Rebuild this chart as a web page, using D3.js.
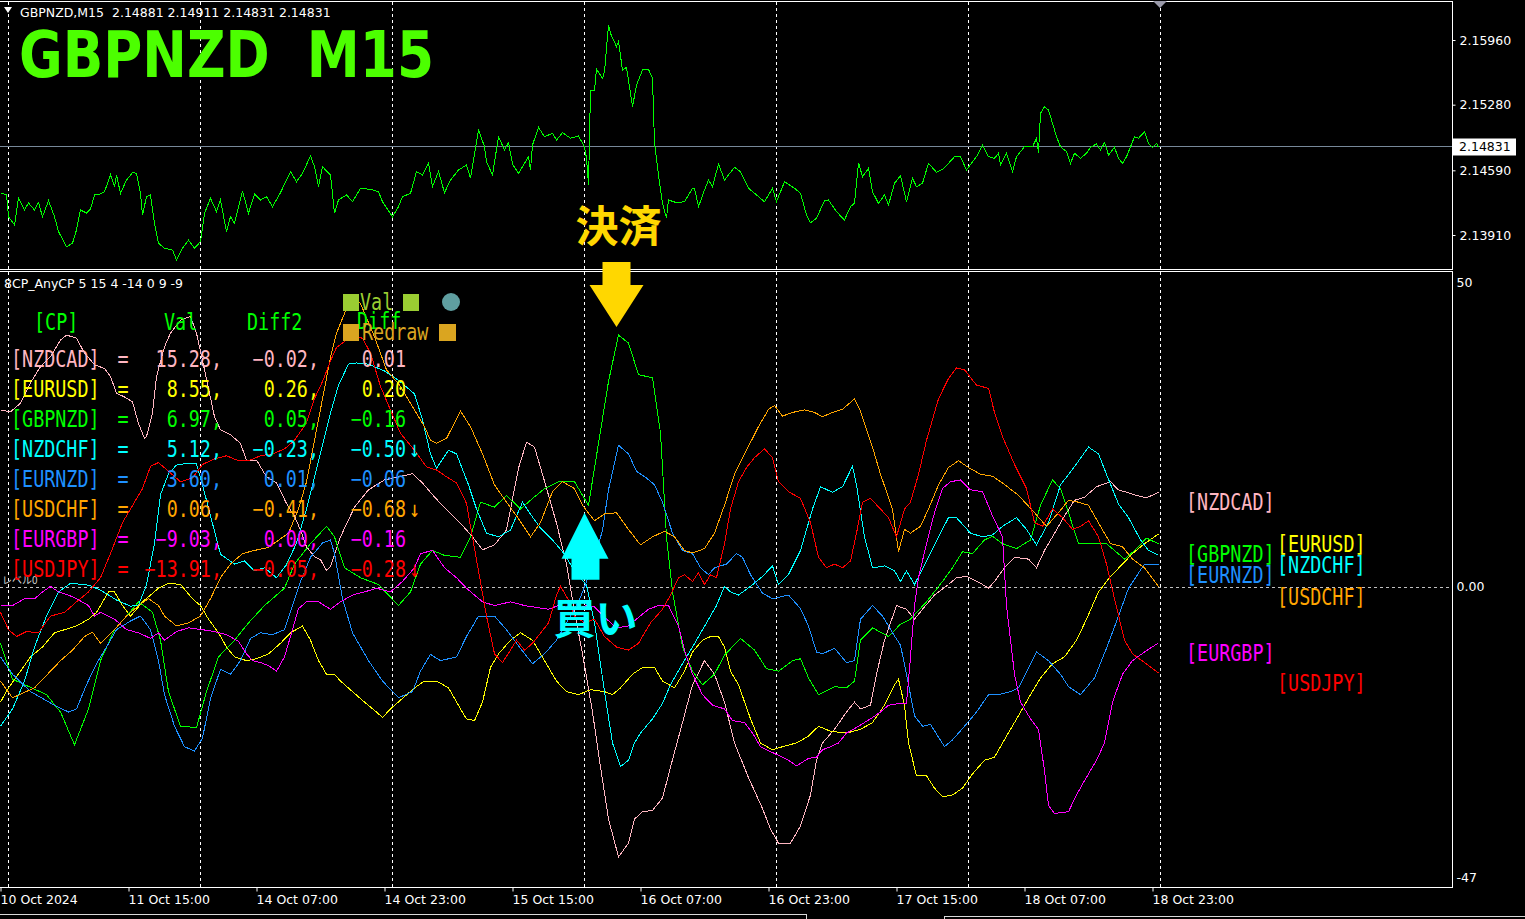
<!DOCTYPE html>
<html><head><meta charset="utf-8">
<script src="https://cdn.jsdelivr.net/npm/d3@7"></script>
<style>html,body{margin:0;padding:0;background:#000;overflow:hidden}</style>
</head><body><svg id="c" width="1525" height="919"></svg>
<script>
// ---------------- DATA ----------------
const symbolHeader = "GBPNZD,M15  2.14881 2.14911 2.14831 2.14831";
const bigTitle = "GBPNZD  M15";
const indicatorTitle = "8CP_AnyCP 5 15 4 -14 0 9 -9";
const priceTicks = [2.15960, 2.15280, 2.14590, 2.13910];
const lastPrice = 2.14831;
const indTicks = [50, 0, -47];
const timeTicks = [0, 64, 128, 192, 256, 320, 384, 448, 512, 576];
const timeLabels = ["10 Oct 2024","11 Oct 15:00","14 Oct 07:00","14 Oct 23:00","15 Oct 15:00","16 Oct 07:00","16 Oct 23:00","17 Oct 15:00","18 Oct 07:00","18 Oct 23:00"];
const daySeps = [4, 100, 196, 292, 388, 484, 580];

// GBPNZD M15 close, [bar, price]
const priceSeries = [[0,2.14355],[3,2.14331],[4,2.14102],[7,2.14015],[9,2.14299],[12,2.14173],[14,2.14246],[17,2.14173],[19,2.14250],[21,2.14102],[24,2.14271],[27,2.14102],[29,2.13945],[33,2.13787],[36,2.13823],[38,2.13963],[40,2.14173],[43,2.14141],[45,2.14183],[47,2.14331],[49,2.14331],[52,2.14365],[55,2.14541],[57,2.14418],[58,2.14541],[60,2.14348],[63,2.14488],[66,2.14565],[68,2.14559],[70,2.14348],[71,2.14120],[73,2.14313],[75,2.14331],[77,2.14033],[79,2.13823],[82,2.13770],[86,2.13752],[88,2.13647],[91,2.13770],[94,2.13857],[97,2.13770],[100,2.13840],[102,2.14138],[105,2.14296],[108,2.14155],[110,2.14278],[113,2.13945],[115,2.14102],[117,2.14033],[121,2.14373],[124,2.14138],[127,2.14341],[130,2.14278],[133,2.14313],[136,2.14208],[140,2.14355],[143,2.14488],[145,2.14576],[148,2.14470],[151,2.14559],[155,2.14741],[157,2.14628],[159,2.14418],[161,2.14628],[165,2.14541],[167,2.14138],[169,2.14278],[173,2.14331],[176,2.14260],[180,2.14401],[185,2.14390],[189,2.14365],[191,2.14260],[196,2.14102],[199,2.14208],[201,2.14313],[205,2.14348],[208,2.14576],[211,2.14541],[214,2.14670],[216,2.14418],[219,2.14576],[222,2.14355],[225,2.14488],[229,2.14593],[233,2.14646],[235,2.14506],[239,2.15014],[242,2.14838],[243,2.14681],[246,2.14541],[249,2.14943],[252,2.14804],[254,2.14880],[256,2.14656],[259,2.14559],[264,2.14733],[265,2.14593],[266,2.14856],[269,2.15042],[272,2.14943],[276,2.14979],[278,2.14909],[281,2.14986],[285,2.14927],[289,2.14951],[292,2.14838],[293,2.14716],[294,2.14436],[295,2.15434],[297,2.15434],[298,2.15652],[301,2.15557],[302,2.15627],[304,2.16118],[305,2.16030],[308,2.15890],[309,2.15942],[311,2.15645],[313,2.15673],[316,2.15259],[318,2.15487],[321,2.15645],[324,2.15652],[326,2.15557],[327,2.14874],[329,2.14541],[331,2.14243],[333,2.14086],[334,2.14278],[338,2.14250],[342,2.14260],[346,2.14401],[347,2.14401],[349,2.14208],[352,2.14383],[354,2.14488],[356,2.14418],[359,2.14656],[362,2.14488],[367,2.14622],[370,2.14576],[374,2.14401],[378,2.14331],[382,2.14260],[386,2.14401],[388,2.14260],[392,2.14470],[397,2.14401],[400,2.14348],[403,2.14120],[405,2.14039],[408,2.14086],[412,2.14271],[414,2.14278],[418,2.14155],[422,2.14068],[425,2.14208],[427,2.14243],[429,2.14670],[431,2.14523],[434,2.14611],[436,2.14365],[439,2.14243],[442,2.14331],[444,2.14225],[447,2.14454],[450,2.14533],[453,2.14260],[456,2.14506],[458,2.14418],[461,2.14454],[464,2.14664],[468,2.14569],[471,2.14601],[474,2.14664],[477,2.14733],[480,2.14733],[483,2.14593],[486,2.14681],[488,2.14733],[491,2.14856],[494,2.14733],[497,2.14716],[499,2.14769],[500,2.14646],[503,2.14769],[506,2.14576],[508,2.14733],[512,2.14838],[516,2.14838],[518,2.14927],[519,2.14775],[520,2.15189],[522,2.15259],[524,2.15224],[526,2.15084],[528,2.14943],[530,2.14838],[533,2.14786],[535,2.14664],[537,2.14769],[540,2.14716],[543,2.14769],[545,2.14832],[548,2.14867],[550,2.14804],[552,2.14880],[554,2.14751],[557,2.14832],[559,2.14716],[561,2.14664],[563,2.14733],[567,2.14943],[569,2.14927],[572,2.14996],[574,2.14874],[576,2.14832],[578,2.14874],[579,2.14831]];

// indicator: currency-pair strength, [bar, value]
const pairs = ["NZDCAD","EURUSD","GBPNZD","NZDCHF","EURNZD","USDCHF","EURGBP","USDJPY"];
const pairColors = ["#FFB6C1","#FFFF00","#00FF00","#00FFFF","#1E90FF","#FFA500","#FF00FF","#FF0000"];
const valNow = [15.28, 8.55, 6.97, 5.12, 3.60, 0.06, -9.03, -13.91];
const diff2 = [-0.02, 0.26, 0.05, -0.23, 0.01, -0.41, 0.00, -0.05];
const diff1 = [0.01, 0.20, -0.16, -0.50, -0.06, -0.68, -0.16, -0.28];
const diffArrow = ["", "", "", "↓", "", "↓", "", "↓"];

const sNZDCAD = [[0,28.6],[5,28.3],[10,29.7],[15,33.0],[20,35.6],[25,37.2],[30,39.9],[33,40.7],[38,40.2],[42,37.8],[47,35.9],[52,35.3],[55,34.0],[58,31.3],[62,30.7],[66,29.9],[69,26.4],[72,24.0],[73,24.3],[76,28.1],[78,34.0],[82,38.8],[85,41.0],[90,43.1],[95,43.7],[98,41.0],[102,35.1],[107,27.5],[110,25.4],[115,24.6],[120,23.2],[123,20.5],[128,20.5],[133,17.8],[138,16.8],[143,13.5],[147,11.4],[150,9.2],[153,6.5],[157,4.9],[160,4.4],[163,2.7],[165,3.3],[170,8.1],[177,12.9],[184,15.7],[192,17.3],[199,17.8],[206,18.3],[211,16.8],[216,14.9],[222,12.8],[230,10.3],[236,8.1],[241,6.0],[247,6.8],[253,9.2],[259,19.2],[263,23.4],[267,22.6],[272,17.1],[278,10.3],[283,3.7],[287,-4.0],[291,-10.8],[296,-20.2],[300,-29.1],[304,-37.5],[309,-43.6],[314,-41.4],[317,-37.5],[321,-36.3],[326,-36.1],[331,-34.1],[335,-29.1],[341,-21.9],[346,-15.8],[352,-11.9],[357,-14.1],[362,-18.6],[367,-25.2],[374,-30.8],[381,-35.8],[385,-39.1],[389,-41.4],[395,-41.4],[400,-38.6],[405,-33.6],[408,-28.0],[411,-25.2],[417,-23.0],[423,-20.2],[427,-18.6],[430,-19.7],[435,-19.1],[438,-14.1],[442,-8.6],[448,-3.0],[453,-3.6],[457,-5.2],[461,-3.6],[467,-1.3],[474,0.4],[478,1.5],[483,1.7],[490,0.6],[494,-0.2],[497,0.9],[502,3.1],[507,4.8],[514,4.5],[518,3.1],[522,5.9],[526,8.1],[532,11.5],[537,14.0],[542,14.5],[548,16.2],[555,17.0],[559,15.7],[568,14.8],[573,14.4],[579,15.28]];
const sEURUSD = [[0,-18.6],[4,-16.3],[10,-13.6],[15,-11.3],[21,-9.7],[27,-7.4],[32,-6.9],[38,-6.3],[44,-5.2],[48,-4.1],[54,-0.8],[57,-0.8],[61,-3.0],[65,-4.7],[68,-3.6],[71,-2.4],[75,-1.3],[79,-0.2],[84,0.6],[90,0.4],[96,-1.9],[100,-3.0],[104,-5.2],[109,-7.4],[113,-9.7],[117,-11.3],[123,-11.9],[128,-11.6],[134,-10.8],[140,-9.1],[145,-7.4],[151,-6.3],[155,-8.6],[159,-11.9],[163,-14.1],[167,-14.1],[170,-15.2],[176,-16.9],[182,-18.6],[188,-20.2],[191,-21.1],[195,-19.7],[201,-18.0],[207,-16.3],[212,-15.2],[218,-15.2],[224,-16.3],[230,-19.7],[233,-21.3],[237,-21.6],[241,-18.6],[245,-13.0],[249,-10.8],[255,-8.6],[260,-7.4],[266,-8.6],[272,-11.9],[278,-15.2],[283,-16.9],[289,-17.4],[295,-16.6],[302,-16.9],[306,-17.4],[310,-16.3],[316,-14.1],[321,-13.0],[327,-13.0],[331,-15.2],[337,-16.3],[342,-13.6],[346,-10.5],[351,-8.6],[355,-8.0],[359,-8.0],[362,-9.7],[365,-13.6],[369,-15.8],[375,-21.3],[380,-25.2],[386,-26.3],[391,-25.8],[398,-25.2],[404,-24.1],[409,-22.5],[415,-23.3],[423,-23.6],[430,-23.0],[436,-21.9],[442,-19.1],[447,-15.8],[449,-14.9],[452,-19.1],[454,-25.2],[458,-30.5],[463,-30.5],[467,-32.5],[471,-33.9],[476,-33.6],[481,-32.5],[486,-30.2],[492,-28.0],[497,-27.5],[503,-24.1],[509,-20.8],[515,-17.4],[520,-14.7],[526,-12.4],[532,-11.3],[538,-8.6],[543,-5.2],[549,-0.8],[555,1.7],[561,3.7],[566,5.4],[572,7.0],[579,8.55]];
const sGBPNZD = [[0,-9.1],[6,-14.9],[23,-17.4],[30,-20.2],[37,-25.5],[44,-19.7],[50,-11.9],[57,-6.9],[63,-4.7],[69,-2.4],[76,-4.1],[80,-8.6],[84,-16.9],[90,-22.5],[98,-22.7],[103,-16.9],[109,-11.3],[117,-8.6],[124,-5.8],[132,-3.0],[142,-0.2],[147,3.7],[155,7.0],[163,9.8],[167,8.1],[172,3.1],[180,1.5],[189,0.4],[199,-3.0],[205,-0.8],[210,3.7],[216,5.9],[222,5.1],[230,4.8],[235,8.1],[240,13.7],[247,12.9],[253,14.8],[260,12.6],[266,14.3],[272,15.9],[279,17.0],[287,17.0],[294,13.2],[304,33.2],[309,40.7],[314,39.4],[319,34.3],[326,33.8],[330,24.9],[333,8.1],[336,-0.8],[341,-9.7],[346,-13.6],[351,-15.8],[357,-14.1],[362,-11.0],[370,-8.3],[377,-10.2],[383,-13.2],[389,-13.6],[396,-11.9],[400,-11.6],[404,-14.7],[409,-17.4],[417,-16.1],[423,-16.3],[427,-15.2],[430,-8.6],[436,-6.6],[444,-8.0],[450,-6.0],[455,-5.2],[463,-2.4],[471,0.9],[476,3.1],[481,5.7],[486,5.4],[492,7.6],[496,8.2],[501,7.0],[508,6.2],[515,7.6],[520,13.2],[526,17.3],[530,15.9],[534,12.0],[539,7.0],[547,7.0],[553,7.0],[562,4.5],[567,5.9],[573,7.9],[579,6.97]];
const sNZDCHF = [[0,-22.5],[6,-19.7],[12,-15.2],[17,-9.7],[23,-4.7],[29,-0.8],[35,0.6],[44,0.3],[50,-0.5],[58,-2.1],[65,-3.1],[69,-2.9],[73,0.3],[77,7.1],[80,14.9],[84,18.3],[88,19.7],[94,20.0],[98,19.9],[101,16.5],[105,11.5],[110,5.3],[117,3.7],[122,4.2],[127,2.6],[132,3.1],[138,1.5],[143,3.6],[148,7.1],[153,12.6],[159,20.4],[165,28.1],[169,32.6],[174,36.0],[178,36.2],[184,36.0],[192,34.9],[199,33.4],[207,31.2],[211,27.0],[215,21.5],[218,19.2],[224,22.1],[228,21.5],[234,16.5],[238,12.6],[243,8.7],[249,8.1],[255,9.2],[261,13.7],[266,11.3],[270,9.5],[276,7.6],[282,5.3],[287,2.6],[293,0.3],[297,-5.8],[302,-16.9],[306,-25.2],[310,-29.0],[314,-28.0],[317,-25.2],[320,-23.6],[326,-21.3],[331,-18.8],[335,-15.8],[341,-12.4],[346,-9.7],[353,-5.8],[358,-3.0],[362,0.1],[365,-0.8],[369,-1.3],[375,0.1],[381,1.7],[386,3.4],[389,0.4],[394,2.0],[400,5.9],[406,12.6],[410,16.2],[416,15.3],[421,16.2],[426,19.5],[428,16.5],[432,8.1],[436,3.1],[442,3.4],[447,2.6],[450,0.9],[453,2.6],[457,0.4],[464,4.8],[469,8.1],[474,11.2],[478,11.2],[485,8.7],[491,8.1],[496,8.4],[501,9.8],[508,11.2],[513,9.3],[518,6.8],[524,10.4],[530,16.5],[536,19.0],[544,22.6],[549,21.5],[553,18.2],[559,13.4],[564,11.2],[570,7.6],[574,5.9],[579,5.12]];
const sEURNZD = [[0,-11.3],[6,-14.1],[15,-16.9],[27,-19.1],[34,-20.2],[38,-19.7],[43,-15.8],[48,-12.4],[53,-9.7],[58,-6.9],[65,-5.5],[70,-4.7],[75,-6.9],[79,-11.9],[82,-17.4],[87,-22.5],[92,-25.8],[97,-26.5],[101,-24.4],[105,-18.0],[110,-13.3],[115,-14.1],[120,-11.9],[125,-8.3],[130,-7.4],[136,-7.7],[142,-6.9],[146,-3.0],[150,0.9],[155,4.8],[161,7.1],[165,7.6],[167,5.4],[171,-1.9],[176,-7.4],[184,-11.9],[191,-15.2],[199,-17.9],[206,-16.9],[210,-13.6],[215,-10.9],[220,-11.9],[228,-11.3],[233,-8.0],[239,-4.7],[247,-4.7],[253,-6.9],[258,-9.1],[266,-12.4],[272,-10.8],[278,-8.6],[283,-5.8],[289,-2.4],[292,0.0],[297,4.4],[301,9.2],[304,15.7],[309,22.9],[314,21.5],[318,18.7],[323,17.6],[327,16.5],[331,13.7],[336,8.7],[341,5.9],[346,5.4],[350,3.1],[354,2.0],[357,3.1],[363,3.7],[368,5.4],[371,4.8],[375,2.0],[381,-1.0],[386,-1.9],[394,-1.3],[400,-3.5],[404,-6.3],[408,-10.5],[411,-10.8],[417,-9.9],[423,-12.2],[427,-11.9],[430,-5.2],[436,-3.0],[441,-4.7],[446,-7.4],[450,-9.4],[453,-14.1],[457,-20.8],[461,-22.5],[465,-22.2],[472,-25.8],[476,-24.7],[482,-22.5],[488,-20.2],[494,-17.4],[499,-17.4],[505,-16.9],[509,-16.3],[515,-12.4],[518,-10.5],[524,-11.9],[530,-14.1],[534,-16.1],[540,-17.4],[547,-14.7],[553,-9.9],[559,-4.7],[564,-0.2],[572,3.7],[579,3.60]];
const sUSDCHF = [[0,-15.2],[6,-17.9],[17,-16.3],[25,-13.6],[30,-11.9],[36,-10.2],[42,-8.0],[46,-7.3],[50,-9.1],[57,-6.9],[63,-4.7],[69,-3.0],[74,-1.9],[79,-3.0],[82,-4.7],[88,-6.3],[94,-5.8],[100,-4.7],[105,-1.9],[110,1.5],[115,3.7],[121,5.4],[127,5.9],[134,6.4],[144,8.7],[149,12.6],[153,17.0],[157,23.7],[161,30.4],[165,37.1],[168,41.0],[172,44.2],[174,45.8],[177,46.4],[180,45.8],[187,40.4],[193,35.1],[200,32.4],[207,28.6],[212,25.9],[215,23.7],[218,23.2],[223,24.0],[230,28.4],[235,25.9],[241,21.5],[247,16.5],[253,13.7],[258,11.5],[265,8.1],[270,10.4],[276,15.4],[281,17.0],[287,15.9],[291,13.2],[297,10.7],[302,11.8],[308,12.0],[314,9.3],[320,6.8],[326,8.1],[332,9.0],[337,8.1],[342,5.9],[346,5.5],[352,6.2],[357,8.7],[362,13.2],[367,18.2],[373,22.1],[379,25.9],[384,28.7],[387,29.3],[391,27.6],[396,28.2],[402,28.6],[407,28.2],[411,27.5],[416,28.2],[421,28.7],[427,30.4],[430,28.4],[436,22.6],[440,18.2],[446,12.6],[449,5.7],[452,9.3],[455,8.7],[460,9.8],[464,12.6],[469,16.5],[474,19.3],[479,20.4],[484,19.3],[490,18.2],[496,17.9],[501,16.8],[509,14.8],[517,12.0],[523,9.8],[529,12.0],[534,14.0],[539,13.7],[544,13.2],[550,9.8],[555,7.0],[561,6.5],[566,4.5],[572,3.1],[579,0.06]];
const sEURGBP = [[0,-3.0],[6,-3.0],[12,-1.9],[17,-1.9],[21,-0.8],[25,0.1],[29,-0.8],[34,-1.3],[38,-1.9],[44,-3.0],[47,-4.7],[50,-4.1],[54,-4.7],[57,-5.2],[63,-6.9],[69,-7.4],[75,-8.3],[79,-7.4],[82,-8.6],[88,-7.2],[94,-6.6],[101,-6.9],[107,-7.2],[113,-7.7],[119,-8.8],[123,-10.8],[126,-11.9],[130,-12.2],[134,-12.7],[138,-13.6],[142,-11.3],[145,-8.0],[149,-3.5],[153,-2.4],[159,-2.4],[165,-3.6],[170,-2.4],[176,-1.3],[182,-0.8],[188,-0.2],[195,-0.8],[201,0.9],[207,3.1],[210,5.4],[216,5.9],[222,3.1],[228,1.5],[233,-0.2],[241,-2.4],[247,-3.0],[255,-2.4],[262,-3.0],[268,-3.3],[274,-3.6],[279,-3.0],[287,-3.6],[293,-3.0],[297,-3.2],[302,-4.9],[308,-6.6],[314,-6.3],[319,-4.9],[324,-3.6],[329,-3.0],[334,-3.0],[339,-6.3],[342,-10.2],[346,-14.1],[351,-17.4],[356,-19.1],[362,-19.7],[366,-21.6],[372,-21.9],[376,-23.6],[380,-25.8],[385,-26.6],[389,-27.2],[394,-28.0],[398,-28.9],[404,-27.7],[408,-27.5],[411,-26.3],[415,-25.8],[419,-25.2],[423,-23.6],[428,-22.7],[432,-21.9],[436,-21.1],[440,-20.2],[444,-19.1],[450,-18.8],[453,-18.8],[455,-11.3],[457,-3.0],[459,1.5],[463,7.0],[467,12.0],[471,15.9],[475,17.0],[480,17.3],[485,15.7],[491,15.4],[496,11.5],[501,8.1],[503,-3.0],[507,-14.1],[510,-18.6],[515,-21.3],[519,-23.0],[522,-29.7],[524,-35.3],[527,-36.6],[534,-36.3],[538,-33.6],[542,-31.3],[548,-28.0],[552,-25.2],[556,-18.6],[561,-14.1],[566,-11.9],[572,-10.5],[579,-9.03]];
const sUSDJPY = [[0,-4.1],[4,-6.9],[8,-8.0],[13,-7.2],[19,-7.4],[25,-4.7],[32,-4.1],[38,-2.4],[44,-0.8],[50,1.5],[55,5.4],[61,10.4],[67,13.7],[71,15.9],[75,19.5],[79,20.1],[84,18.7],[90,17.0],[96,17.6],[101,19.8],[107,20.7],[113,21.2],[119,20.4],[124,20.4],[130,21.2],[136,21.5],[142,22.3],[147,23.7],[153,26.5],[157,30.4],[161,33.2],[165,36.5],[168,38.7],[173,39.9],[177,40.4],[181,40.2],[185,37.8],[190,32.4],[195,28.6],[200,24.8],[207,22.1],[213,19.4],[218,18.9],[223,17.8],[228,16.8],[233,13.5],[235,9.8],[239,2.6],[243,-4.7],[247,-10.8],[251,-12.2],[255,-10.2],[258,-8.6],[262,-10.2],[266,-9.1],[274,-5.8],[278,-1.3],[280,0.1],[284,-2.1],[287,-4.7],[292,-5.8],[297,-5.2],[302,-8.0],[308,-9.7],[314,-10.2],[319,-9.1],[325,-5.8],[331,-3.6],[335,-1.3],[339,1.5],[342,2.0],[346,0.9],[349,2.3],[352,0.4],[355,2.0],[358,1.5],[362,7.0],[365,12.6],[369,17.0],[373,19.3],[377,20.9],[382,22.3],[386,20.9],[389,17.0],[394,15.4],[400,14.3],[405,10.4],[409,4.8],[413,3.1],[417,3.7],[421,3.1],[425,4.2],[428,8.7],[431,13.7],[435,14.3],[440,12.6],[444,11.2],[448,8.1],[452,12.6],[455,13.7],[459,18.2],[463,23.7],[469,30.4],[474,33.7],[478,35.4],[482,35.1],[488,32.6],[494,32.1],[497,28.2],[501,24.3],[507,19.8],[513,15.9],[517,10.4],[521,9.8],[526,12.6],[531,11.2],[536,9.3],[540,9.8],[544,10.7],[549,8.1],[553,3.7],[557,-1.9],[562,-8.6],[566,-10.8],[572,-12.2],[579,-13.91]];
const seriesData = [sNZDCAD, sEURUSD, sGBPNZD, sNZDCHF, sEURNZD, sUSDCHF, sEURGBP, sUSDJPY];

// trade signals on the indicator: [bar, indicator value at the arrow tip]
const signalTypes = ["close", "buy"];
const signalBars = [308, 292];
const signalVals = [42.0, 12.0];
const signalTexts = ["決済", "買い"];

// ---------------- DRAWING ----------------
const W = 1525, H = 919, R = 1452;
const svg = d3.select("#c");
const UI = "DejaVu Sans";
const MONO = "DejaVu Sans Mono";
const AXFS = "12.5px";

const x = d3.scaleLinear().domain([0, 580]).range([0, 1160]);
const yP = d3.scaleLinear().domain([2.13910, 2.15960]).range([235, 40]);
const yI = d3.scaleLinear().domain([-47, 50]).range([877.9, 277.5]);

svg.append("rect").attr("width", W).attr("height", H).attr("fill", "#000");

const defs = svg.append("defs");
defs.append("clipPath").attr("id", "clipTop").append("rect").attr("x", 0).attr("y", 2).attr("width", R).attr("height", 267);
defs.append("clipPath").attr("id", "clipInd").append("rect").attr("x", 0).attr("y", 272).attr("width", R).attr("height", 615);

// day separators
const sep = svg.append("g").attr("stroke", "#ffffff").attr("stroke-dasharray", "3,3").attr("shape-rendering", "crispEdges");
daySeps.forEach(b => {
  const xx = Math.round(x(b)) + 0.5;
  sep.append("line").attr("x1", xx).attr("x2", xx).attr("y1", 2).attr("y2", 269);
  sep.append("line").attr("x1", xx).attr("x2", xx).attr("y1", 272).attr("y2", 887);
});

// zero level
svg.append("line").attr("x1", 0).attr("x2", R).attr("y1", Math.round(yI(0)) + 0.5).attr("y2", Math.round(yI(0)) + 0.5)
  .attr("stroke", "#c0c0c0").attr("stroke-dasharray", "3,3").attr("shape-rendering", "crispEdges");
svg.append("text").attr("x", 2).attr("y", Math.round(yI(0)) - 3).attr("fill", "#d0d0d0")
  .style("font-family", "Noto Sans CJK JP").style("font-size", "10px").text("レベル0");

// current price line
svg.append("line").attr("x1", 0).attr("x2", R).attr("y1", Math.round(yP(lastPrice)) - 0.5).attr("y2", Math.round(yP(lastPrice)) - 0.5)
  .attr("stroke", "#778899").attr("shape-rendering", "crispEdges");

// price line
svg.append("path").datum(priceSeries).attr("clip-path", "url(#clipTop)")
  .attr("fill", "none").attr("stroke", "#00FF00").attr("stroke-width", 1).attr("shape-rendering", "crispEdges")
  .attr("d", d3.line().x(d => x(d[0]) + 0.5).y(d => yP(d[1])));

// indicator lines
const lineI = d3.line().x(d => x(d[0]) + 0.5).y(d => yI(d[1]));
const gl = svg.append("g").attr("clip-path", "url(#clipInd)");
seriesData.forEach((s, i) => {
  gl.append("path").datum(s).attr("fill", "none").attr("stroke", pairColors[i]).attr("stroke-width", 1)
    .attr("shape-rendering", "crispEdges").attr("d", lineI);
});

// pane borders
const bd = svg.append("g").attr("stroke", "#ffffff").attr("fill", "none").attr("shape-rendering", "crispEdges");
bd.append("path").attr("d", `M0,1.5H${R + 0.5}V269.5H0`);
bd.append("path").attr("d", `M0,271.5H${R + 0.5}V887.5H0`);
bd.append("path").attr("d", `M0,914.5H806.5V919M944.5,919V916.5H${W}`).attr("stroke", "#d8d8d8");

// price axis
const ax = svg.append("g").attr("transform", `translate(${R + 0.5},0)`)
  .call(d3.axisRight(yP).tickValues(priceTicks).tickSize(3).tickPadding(4).tickFormat(d3.format(".5f")));
ax.select(".domain").remove();
ax.selectAll("line").attr("stroke", "#fff");
ax.selectAll("text").attr("fill", "#fff").style("font-family", UI).style("font-size", AXFS);

// last price box
const lpY = Math.round(yP(lastPrice)) - 0.5;
svg.append("rect").attr("x", R + 1).attr("y", lpY - 8).attr("width", 63).attr("height", 17).attr("fill", "#fff");
svg.append("text").attr("x", R + 7).attr("y", lpY + 4.5).attr("fill", "#000")
  .style("font-family", UI).style("font-size", AXFS).text(d3.format(".5f")(lastPrice));

// indicator axis
const ai = svg.append("g").attr("transform", `translate(${R + 0.5},0)`)
  .call(d3.axisRight(yI).tickValues(indTicks).tickSize(0).tickPadding(4).tickFormat(v => v === 0 ? "0.00" : String(v)));
ai.select(".domain").remove();
ai.selectAll("text").attr("fill", "#fff").style("font-family", UI).style("font-size", AXFS)
  .attr("dy", v => v === indTicks[0] ? "0.75em" : "0.32em");

// time axis
const at = svg.append("g").attr("transform", "translate(0,887.5)")
  .call(d3.axisBottom(x).tickValues(timeTicks).tickSize(4).tickPadding(4).tickFormat((d, i) => timeLabels[i]));
at.select(".domain").remove();
at.selectAll("line").attr("stroke", "#fff").attr("transform", "translate(0.5,0)");
at.selectAll("text").attr("fill", "#fff").attr("text-anchor", "start").style("font-family", UI).style("font-size", AXFS);

// header
svg.append("path").attr("d", "M4,7H12L8,13Z").attr("fill", "#fff");
svg.append("path").attr("d", `M${x(580) - 7},1H${x(580) + 7}L${x(580)},8Z`).attr("fill", "#9a9aaa");
svg.append("text").attr("x", 20).attr("y", 17).attr("fill", "#fff").style("font-family", UI).style("font-size", "12.5px")
  .style("white-space", "pre").text(symbolHeader);
svg.append("text").attr("x", 19).attr("y", 77).attr("fill", "#4CFF00").style("font-family", UI).style("font-weight", "bold")
  .style("font-size", "64px").style("white-space", "pre").attr("textLength", 415).attr("lengthAdjust", "spacingAndGlyphs").text(bigTitle);
svg.append("text").attr("x", 4).attr("y", 288).attr("fill", "#fff").style("font-family", UI).style("font-size", "12.5px").text(indicatorTitle);

// monospace helper (narrow tall, like MS Gothic)
function mono(str, px, py, color, anchor) {
  svg.append("text").attr("transform", `translate(${px},${py}) scale(0.8,1)`)
    .attr("text-anchor", anchor || "start").attr("fill", color)
    .style("font-family", MONO).style("font-size", "23px").style("white-space", "pre").text(str);
}
const fmt = v => (v < 0 ? "−" : "") + Math.abs(v).toFixed(2);

// table
mono("[CP]", 34, 330, "#00FF00");
mono("Val", 164, 330, "#00FF00");
mono("Diff2", 247, 330, "#00FF00");
pairs.forEach((p, i) => {
  const by = 367 + i * 30, c = pairColors[i];
  mono("[" + p + "]", 11, by, c);
  mono("=", 123, by, c, "middle");
  mono(fmt(valNow[i]) + ",", 222, by, c, "end");
  mono(fmt(diff2[i]) + ",", 319, by, c, "end");
  mono(fmt(diff1[i]), 406, by, c, "end");
  if (diffArrow[i]) mono(diffArrow[i], 409, by, c);
});

// legend buttons
svg.append("rect").attr("x", 343).attr("y", 294).attr("width", 16).attr("height", 17).attr("fill", "#9ACD32");
mono("Val", 360, 310, "#9ACD32");
svg.append("rect").attr("x", 403).attr("y", 294).attr("width", 16).attr("height", 17).attr("fill", "#9ACD32");
svg.append("circle").attr("cx", 451).attr("cy", 302).attr("r", 9).attr("fill", "#5F9EA0");
mono("Diff", 357, 329, "#00FF00");
svg.append("rect").attr("x", 343).attr("y", 324).attr("width", 16).attr("height", 17).attr("fill", "#DAA520");
mono("Redraw", 362, 340, "#DAA520");
svg.append("rect").attr("x", 439).attr("y", 324).attr("width", 17).attr("height", 17).attr("fill", "#DAA520");

// right-side labels at the last values
pairs.forEach((p, i) => {
  const lx = i % 2 === 0 ? 1186 : 1277;
  mono("[" + p + "]", lx, yI(valNow[i]) + 18, pairColors[i]);
});

// signal arrows
signalTypes.forEach((t, i) => {
  const tx = x(signalBars[i]) + 0.5, ty = yI(signalVals[i]);
  if (t === "close") {
    svg.append("path").attr("fill", "#FFD700")
      .attr("d", `M${tx},${ty}L${tx - 27},${ty - 42}H${tx - 14}V${ty - 65}H${tx + 14}V${ty - 42}H${tx + 27}Z`);
    svg.append("text").attr("x", tx + 2).attr("y", ty - 85).attr("text-anchor", "middle").attr("fill", "#FFD700")
      .style("font-family", "Noto Sans CJK JP").style("font-weight", "bold").style("font-size", "43px").text(signalTexts[i]);
  } else {
    svg.append("path").attr("fill", "#00FFFF")
      .attr("d", `M${tx},${ty}L${tx + 24},${ty + 46}H${tx + 15}V${ty + 67}H${tx - 13}V${ty + 46}H${tx - 23}Z`);
    svg.append("text").attr("x", tx + 11).attr("y", ty + 121).attr("text-anchor", "middle").attr("fill", "#00FFFF")
      .style("font-family", "Noto Sans CJK JP").style("font-weight", "bold").style("font-size", "42px").text(signalTexts[i]);
  }
});
</script></body></html>
